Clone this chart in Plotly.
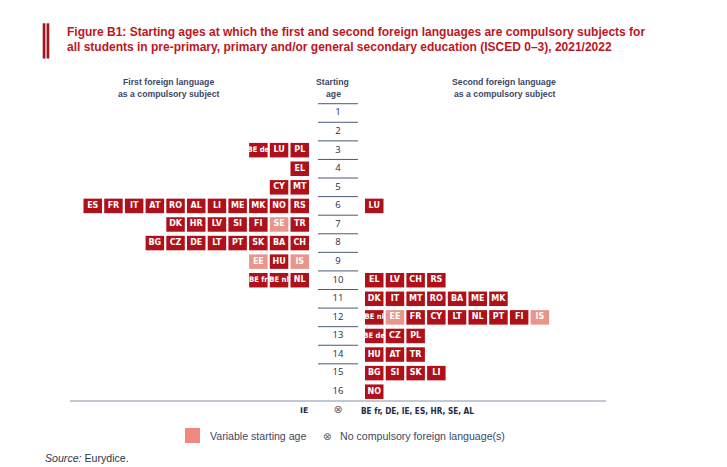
import plotly.graph_objects as go

# ---------------- data ----------------
ages = list(range(1, 17))

first_codes = ["BE de", "LU", "PL",
               "EL",
               "CY", "MT",
               "ES", "FR", "IT", "AT", "RO", "AL", "LI", "ME", "MK", "NO", "RS",
               "DK", "HR", "LV", "SI", "FI", "SE", "TR",
               "BG", "CZ", "DE", "LT", "PT", "SK", "BA", "CH",
               "EE", "HU", "IS",
               "BE fr", "BE nl", "NL"]
first_ages = [3, 3, 3,
              4,
              5, 5,
              6, 6, 6, 6, 6, 6, 6, 6, 6, 6, 6,
              7, 7, 7, 7, 7, 7, 7,
              8, 8, 8, 8, 8, 8, 8, 8,
              9, 9, 9,
              10, 10, 10]
first_variable = ["SE", "EE", "IS"]

second_codes = ["LU",
                "EL", "LV", "CH", "RS",
                "DK", "IT", "MT", "RO", "BA", "ME", "MK",
                "BE nl", "EE", "FR", "CY", "LT", "NL", "PT", "FI", "IS",
                "BE de", "CZ", "PL",
                "HU", "AT", "TR",
                "BG", "SI", "SK", "LI",
                "NO"]
second_ages = [6,
               10, 10, 10, 10,
               11, 11, 11, 11, 11, 11, 11,
               12, 12, 12, 12, 12, 12, 12, 12, 12,
               13, 13, 13,
               14, 14, 14,
               15, 15, 15, 15,
               16]
second_variable = ["EE", "IS"]

no_first = "IE"
no_second = "BE fr, DE, IE, ES, HR, SE, AL"

# ---------------- styling ----------------
OFF = 8              # page body margin
W, H = 727 - OFF, 467 - OFF
DARK = "#AF111B"
LIGHT = "#E8958C"
SWATCH = "#F0897D"
TITLE_RED = "#BE1622"
HEAD = "#3C4866"

PITCH_X = 20.7       # px per box slot
PITCH_Y = 18.58      # px per age row
CX = 338.0 - OFF     # figure-pixel x of age column
Y1 = 113.0 - OFF     # figure-pixel y of age 1

x_range = [-CX / PITCH_X, (W - CX) / PITCH_X]
y_range = [1 + (H - Y1) / PITCH_Y, 1 - Y1 / PITCH_Y]

LEFT0 = (299.75 - OFF - CX) / PITCH_X
RIGHT0 = (374.25 - OFF - CX) / PITCH_X
BOX_W = 18.5 / PITCH_X
BOX_H = 14.5 / PITCH_Y


def ux(x):
    """reference pixel x -> data x"""
    return (x - OFF - CX) / PITCH_X


def px(x):
    return (x - OFF) / W


def py(y):
    return 1 - (y - OFF) / H


def positions(codes, ages_, side):
    xs = []
    for i, (c, a) in enumerate(zip(codes, ages_)):
        row = [j for j, aa in enumerate(ages_) if aa == a]
        pos = row.index(i)
        if side == "left":
            k = len(row) - 1 - pos
            xs.append(LEFT0 - k)
        else:
            xs.append(RIGHT0 + pos)
    return xs


fig = go.Figure()

for codes, ages_, var, side in [(first_codes, first_ages, first_variable, "left"),
                                (second_codes, second_ages, second_variable, "right")]:
    xs = positions(codes, ages_, side)
    colors = [LIGHT if c in var else DARK for c in codes]
    fig.add_trace(go.Bar(
        orientation="h", y=ages_, x=[BOX_W] * len(codes),
        base=[x - BOX_W / 2 for x in xs], width=BOX_H,
        marker=dict(color=colors, line=dict(width=0)),
        hoverinfo="skip", showlegend=False))
    sizes = [7.6 if len(c) > 2 else 8 for c in codes]
    fams = ["DejaVu Sans Condensed" if len(c) > 2 else "DejaVu Sans" for c in codes]
    fig.add_trace(go.Scatter(
        x=xs, y=ages_, mode="text", text=[f"<b>{c}</b>" for c in codes],
        textposition="middle center",
        textfont=dict(color="white", size=sizes, family=fams),
        hoverinfo="skip", showlegend=False))

# age column numbers
fig.add_trace(go.Scatter(
    x=[0] * len(ages), y=ages, mode="text", text=[str(a) for a in ages],
    textposition="middle center",
    textfont=dict(color="#1F2B49", size=9.5, family="Open Sans"),
    hoverinfo="skip", showlegend=False))

# no compulsory row
fig.add_trace(go.Scatter(
    x=[0], y=[17], mode="text", text=["⊗"], textposition="middle center",
    textfont=dict(color="#55627A", size=11, family="DejaVu Sans"),
    hoverinfo="skip", showlegend=False))

shapes = []
for a in ages:
    if a == 16:
        break
    shapes.append(dict(type="line", xref="x", yref="y",
                       x0=ux(318), x1=ux(358), y0=a - 0.5, y1=a - 0.5,
                       line=dict(color="#4A5A74", width=1)))
shapes.append(dict(type="line", xref="x", yref="y",
                   x0=ux(70), x1=ux(606), y0=16.5, y1=16.5,
                   line=dict(color="#8794A6", width=1.2)))
# title bars
for x0, x1 in [(42.7, 45.4), (46.6, 49.3)]:
    shapes.append(dict(type="rect", xref="paper", yref="paper",
                       x0=px(x0), x1=px(x1), y0=py(58.5), y1=py(23.3),
                       fillcolor="#A3141D", line=dict(width=0)))
# legend swatch
shapes.append(dict(type="rect", xref="paper", yref="paper",
                   x0=px(185), x1=px(200), y0=py(443), y1=py(428),
                   fillcolor=SWATCH, line=dict(width=0)))

ann = []


def txt(x, y, s, size, color, family="Liberation Sans", xanchor="left", bold=False):
    if bold:
        s = f"<b>{s}</b>"
    ann.append(dict(x=px(x), y=py(y), xref="paper", yref="paper", text=s,
                    showarrow=False, xanchor=xanchor, yanchor="middle",
                    font=dict(size=size, color=color, family=family)))


txt(65, 32, "Figure B1: Starting ages at which the first and second foreign languages are compulsory subjects for",
    12, TITLE_RED, bold=True)
txt(65, 47, "all students in pre-primary, primary and/or general secondary education (ISCED 0–3), 2021/2022",
    12, TITLE_RED, bold=True)

txt(168, 82.3, "First foreign language", 8.7, HEAD, xanchor="center", bold=True)
txt(168, 93.5, "as a compulsory subject", 8.7, HEAD, xanchor="center", bold=True)
txt(332, 82.3, "Starting", 8.7, HEAD, xanchor="center", bold=True)
txt(333, 93.5, "age", 8.7, HEAD, xanchor="center", bold=True)
txt(504, 82.3, "Second foreign language", 8.7, HEAD, xanchor="center", bold=True)
txt(504, 93.5, "as a compulsory subject", 8.7, HEAD, xanchor="center", bold=True)

txt(310, 410.5, no_first, 7.8, "#1F2B49", family="DejaVu Sans", xanchor="right", bold=True)
txt(359, 410.5, no_second, 8.2, "#1F2B49", family="DejaVu Sans Condensed", bold=True)

txt(208, 435.5, "Variable starting age", 10.6, HEAD)
txt(327, 435.5, "⊗", 10.5, "#55627A", family="DejaVu Sans", xanchor="center")
txt(338, 435.5, "No compulsory foreign language(s)", 10.6, HEAD)

txt(43, 458, "<i>Source:</i> Eurydice.", 10.6, "#2B3550")

fig.update_layout(
    width=W, height=H, margin=dict(l=0, r=0, t=0, b=0),
    paper_bgcolor="white", plot_bgcolor="white",
    barmode="overlay", showlegend=False,
    xaxis=dict(range=x_range, visible=False, fixedrange=True),
    yaxis=dict(range=y_range, visible=False, fixedrange=True),
    shapes=shapes, annotations=ann,
)

fig.write_html("out.html", config={"displayModeBar": False})
